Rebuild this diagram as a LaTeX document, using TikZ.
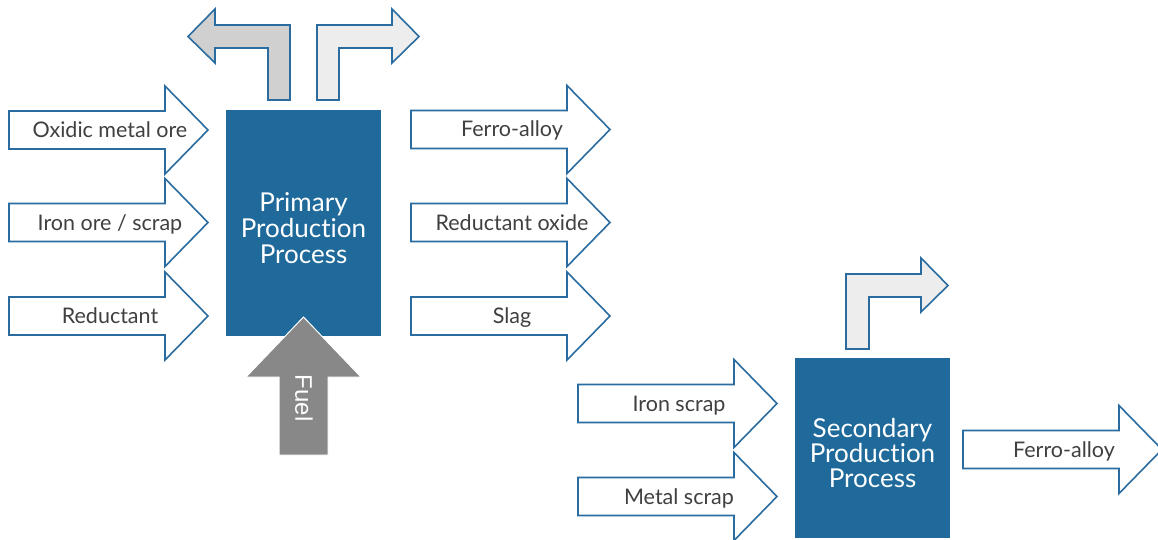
\documentclass[tikz,border=0pt]{standalone}
\usepackage{fontspec}
\setmainfont{Lato}[Ligatures=NoCommon]
\newfontfamily\fuelfont{Liberation Sans}
\definecolor{boxblue}{HTML}{1F6A9A}
\definecolor{edgeblue}{HTML}{2A6C9F}
\definecolor{txt}{HTML}{404040}
\definecolor{lgrey}{HTML}{EDEDED}
\definecolor{mgrey}{HTML}{D0D0D0}
\definecolor{fuelgrey}{HTML}{888888}
\tikzset{
  blockarrow/.style={draw=edgeblue, line width=1.6pt, fill=white, line join=miter},
  larrow/.style={draw=edgeblue, line width=1.6pt, line join=miter},
  lbl/.style={text=txt, font=\fontsize{21.5}{23}\selectfont, inner sep=0pt, anchor=base},
  procbox/.style={fill=boxblue, draw=none, inner sep=0pt},
  proctxt/.style={text=white, align=center, inner sep=0pt},
}
\newcommand{\rarrow}[4]{% x0, yc, name, label
  \draw[blockarrow] (#1,#2-19) -- ++(156,0) -- ++(0,-25) -- (#1+199,#2) -- (#1+156,#2+44) -- ++(0,-25) -- (#1,#2+19) -- cycle;
  \node[lbl] (#3) at (#1+101,#2+7.5) {#4};
}
\begin{document}
\begin{tikzpicture}[x=1pt,y=-1pt]
\useasboundingbox (0,0) rectangle (1158,540);
% process boxes
\node[procbox, minimum width=155pt, minimum height=226pt] (prim) at (303.5,223) {};
\node[proctxt, font=\fontsize{26}{26}\selectfont] (primtxt) at (303.5,228) {Primary\\Production\\Process};
\node[procbox, minimum width=155pt, minimum height=180pt] (sec) at (872.5,448) {};
\node[proctxt, font=\fontsize{26}{25}\selectfont] (sectxt) at (872.5,453) {Secondary\\Production\\Process};
% primary inputs
\rarrow{9}{130}{in1}{Oxidic metal ore}
\rarrow{9}{222.5}{in2}{Iron ore / scrap}
\rarrow{9}{316}{in3}{Reductant}
% primary outputs
\rarrow{411}{129.5}{out1}{Ferro-alloy}
\rarrow{411}{222.5}{out2}{Reductant oxide}
\rarrow{411}{316}{out3}{Slag}
% secondary inputs
\rarrow{578}{403.5}{sin1}{Iron scrap}
\rarrow{578}{496.5}{sin2}{Metal scrap}
% secondary output
\rarrow{963}{449.5}{sout}{Ferro-alloy}
% top L arrows
\draw[larrow, fill=mgrey] (290,100) -- (290,25) -- (215,25) -- (215,9) -- (188,36.5) -- (215,63) -- (215,48) -- (268,48) -- (268,100) -- cycle;
\draw[larrow, fill=lgrey] (317,100) -- (317,25) -- (392,25) -- (392,9) -- (419,36.5) -- (392,63) -- (392,48) -- (339,48) -- (339,100) -- cycle;
\draw[larrow, fill=lgrey] (846,349) -- (846,274) -- (921,274) -- (921,258) -- (948,285.5) -- (921,312) -- (921,297) -- (869,297) -- (869,349) -- cycle;
% fuel arrow
\draw[fill=fuelgrey, draw=white, line width=1pt, line join=miter] (279,455) -- (279,377) -- (246,377) -- (303.5,317) -- (361,377) -- (328,377) -- (328,455) -- cycle;
\node[text=white, font=\fuelfont\fontsize{24}{26}\selectfont, rotate=-90, inner sep=0pt] (fuel) at (304,398) {Fuel};
\end{tikzpicture}
\end{document}
